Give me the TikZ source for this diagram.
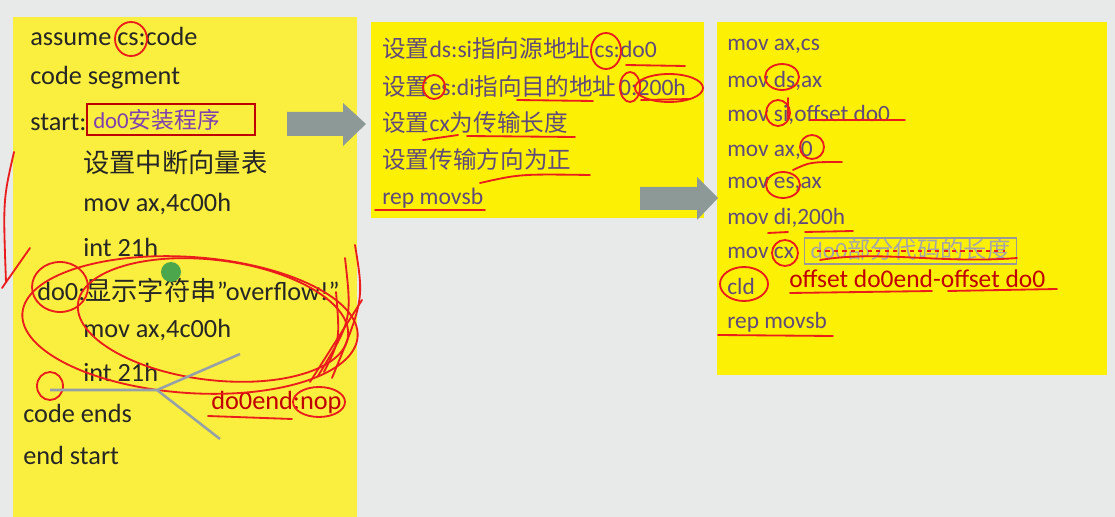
\documentclass[tikz,border=0pt]{standalone}
\usepackage{fontspec}
\setmainfont{Carlito}
\newfontfamily\cjk{Noto Sans CJK SC}
\newcommand{\zh}[1]{{\cjk #1}}
\definecolor{bggray}{RGB}{232,234,234}
\definecolor{paleyellow}{RGB}{250,238,62}
\definecolor{slideyellow}{RGB}{252,240,4}
\definecolor{arrowgray}{RGB}{140,153,150}
\definecolor{codeblack}{RGB}{38,38,38}
\definecolor{codepurple}{RGB}{96,74,123}
\definecolor{titlepurple}{RGB}{128,64,176}
\definecolor{darkred}{RGB}{192,0,0}
\definecolor{inkred}{RGB}{235,28,28}
\definecolor{cursorgray}{RGB}{150,160,168}
\tikzset{
  srcline/.style={anchor=west, inner sep=0pt, text=codeblack, font=\fontsize{18.7}{20}\selectfont},
  stepline/.style={anchor=west, inner sep=0pt, text=codepurple, font=\fontsize{16.8}{18}\selectfont},
  asmline/.style={anchor=west, inner sep=0pt, text=codepurple, font=\fontsize{16.6}{18}\selectfont},
  scribble/.style={draw=inkred, line width=1.3pt, line cap=round, line join=round},
}
\begin{document}
\begin{tikzpicture}[x=0.025cm,y=-0.025cm]
  \useasboundingbox (0,0) rectangle (1115,517);
  \fill[bggray] (0,0) rectangle (1115,517);
  % yellow panels
  \fill[paleyellow] (13,17) rectangle (357,517);
  \fill[slideyellow] (371,22) rectangle (704,218);
  \fill[slideyellow] (717,22) rectangle (1107,375);
  % block arrows
  \fill[arrowgray] (287,112) -- (343,112) -- (343,103) -- (366,124) -- (343,146) -- (343,136) -- (287,136) -- cycle;
  \fill[arrowgray] (640,187) -- (697,187) -- (697,177) -- (718,198) -- (697,220) -- (697,210) -- (640,210) -- cycle;

  % left panel: program outline
  \node[srcline] (assume) at (30,36) {assume cs:code};
  \node[srcline] (segment) at (30,78) {code segment};
  \node[srcline] (start) at (30,122) {start:};
  \node[anchor=west, inner sep=0pt, text=titlepurple, font=\fontsize{16.2}{18}\selectfont] (install) at (93,120) {do0\zh{安装程序}};
  \draw[darkred, line width=1.5pt] (87,104) rectangle (255,135);
  \node[srcline] (vector) at (83,163) {\zh{设置中断向量表}};
  \node[srcline] (movA) at (83,204) {mov ax,4c00h};
  \node[srcline] (intA) at (83,247) {int 21h};
  \node[srcline] (do0) at (37,290) {do0:\zh{显示字符串}”overflow!”};
  \node[srcline] (movB) at (83,330) {mov ax,4c00h};
  \node[srcline] (intB) at (83,372) {int 21h};
  \node[srcline] (ends) at (23,413) {code ends};
  \node[srcline] (endstart) at (23,455) {end start};
  \node[srcline, text=darkred] (do0end) at (211,402) {do0end:nop};

  % middle panel: steps
  \node[stepline] (setsrc) at (382,49) {\zh{设置}ds:si\zh{指向源地址}\hspace{3pt}cs:do0};
  \node[stepline] (setdst) at (382,87) {\zh{设置}es:di\zh{指向目的地址}\hspace{2pt}0:200h};
  \node[stepline] (setlen) at (382,123) {\zh{设置}cx\zh{为传输长度}};
  \node[stepline] (setdir) at (382,159) {\zh{设置传输方向为正}};
  \node[stepline] (repA) at (382,198) {rep movsb};

  % right panel: instructions
  \node[asmline] (i1) at (727,46) {mov ax,cs};
  \node[asmline] (i2) at (727,81) {mov ds,ax};
  \node[asmline] (i3) at (727,115) {mov si,offset do0};
  \node[asmline] (i4) at (727,150) {mov ax,0};
  \node[asmline] (i5) at (727,184) {mov es,ax};
  \node[asmline] (i6) at (727,218) {mov di,200h};
  \node[asmline] (i7) at (727,253) {mov cx};
  \node[asmline] (i8) at (727,286) {cld};
  \node[asmline] (i9) at (727,322) {rep movsb};
  \node[anchor=west, draw=gray!80, line width=0.8pt, text=gray!70, inner sep=1pt, minimum width=5.3cm, minimum height=0.65cm,
        font=\fontsize{16.6}{18}\selectfont, text height=12pt] (len) at (804,251) {do0\zh{部分代码的长度}};
  \node[anchor=west, inner sep=0pt, text=darkred, font=\fontsize{18.1}{20}\selectfont] (offsets) at (789,279) {offset do0end-offset do0};

  % pen marks on the left panel
  \draw[scribble] (131,39) ellipse [x radius=16, y radius=17];
  \draw[scribble] (14,152) .. controls (3,200) .. (6,282);
  \draw[scribble] (30,248) -- (2,288);
  \draw[scribble] (60,287) ellipse [x radius=28, y radius=25];
  \draw[scribble, rotate around={-4:(190,325)}] (190,325) ellipse [x radius=168, y radius=68];
  \draw[scribble, rotate around={-7:(213,320)}] (213,320) ellipse [x radius=136, y radius=60];
  \draw[scribble] (50,386) ellipse [x radius=13, y radius=14];
  \draw[scribble] (319,402) ellipse [x radius=26, y radius=15];
  \draw[scribble] (208,416) -- (292,419);
  \draw[scribble] (355,245) .. controls (364,300) .. (332,378);
  \draw[scribble] (345,258) .. controls (352,320) .. (318,376);
  \draw[scribble] (362,300) -- (310,382);
  \draw[scribble] (336,292) .. controls (340,340) .. (324,372);
  % pen cursor
  \fill[green!50!black!70] (171,272) circle [radius=10];
  \draw[cursorgray, line width=1.8pt] (50,390) -- (157,390) -- (240,354);
  \draw[cursorgray, line width=1.8pt] (157,390) -- (220,439);

  % pen marks on the middle panel
  \draw[scribble] (606,51) ellipse [x radius=15, y radius=18];
  \draw[scribble] (626,65) -- (685,66);
  \draw[scribble] (434,87) ellipse [x radius=11, y radius=12];
  \draw[scribble] (517,100) -- (593,101);
  \draw[scribble] (630,87) ellipse [x radius=10, y radius=15];
  \draw[scribble] (669,88) ellipse [x radius=34, y radius=14];
  \draw[scribble] (641,100) -- (690,99);
  \draw[scribble] (423,140) -- (458,135);
  \draw[scribble] (467,136) -- (575,137);
  \draw[scribble] (480,183) .. controls (520,174) .. (590,175);
  \draw[scribble] (375,210) -- (485,210);

  % pen marks on the right panel
  \draw[scribble] (782,77) ellipse [x radius=17, y radius=13];
  \draw[scribble] (778,113) ellipse [x radius=12, y radius=13];
  \draw[scribble] (788,98) -- (788,120);
  \draw[scribble] (810,120) -- (905,120);
  \draw[scribble] (812,147) ellipse [x radius=12, y radius=12];
  \draw[scribble] (793,170) .. controls (810,162) .. (842,162);
  \draw[scribble] (783,185) ellipse [x radius=17, y radius=13];
  \draw[scribble] (768,233) -- (788,232);
  \draw[scribble] (805,232) -- (853,231);
  \draw[scribble] (785,253) ellipse [x radius=13, y radius=13];
  \draw[inkred, line width=1pt, dashed] (817,251) -- (1005,251);
  \draw[scribble] (820,260) .. controls (880,250) and (940,264) .. (1017,258);
  \draw[scribble] (744,284) ellipse [x radius=24, y radius=17];
  \draw[scribble] (790,293) -- (932,291);
  \draw[scribble] (948,291) -- (1057,289);
  \draw[scribble] (718,335) -- (833,336);
\end{tikzpicture}
\end{document}
